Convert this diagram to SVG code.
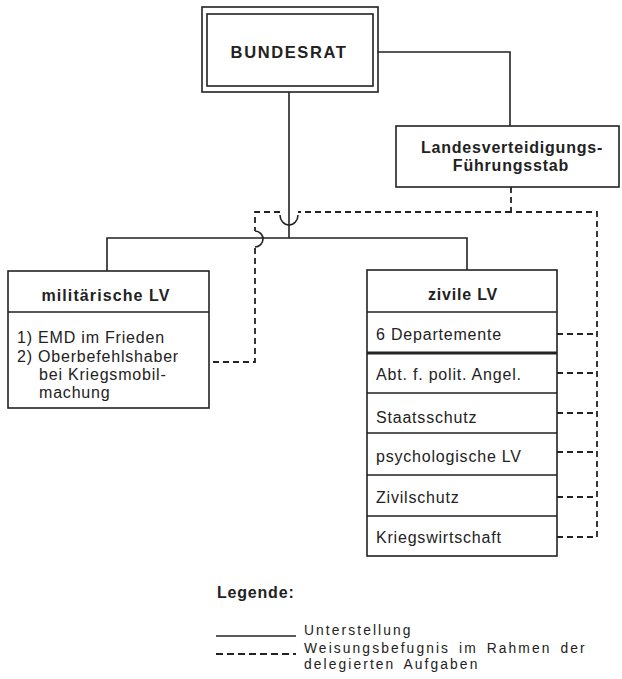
<svg xmlns="http://www.w3.org/2000/svg" width="622" height="679" viewBox="0 0 622 679">
<style>
text{font-family:"Liberation Sans",Arial,sans-serif;font-size:16px;fill:#222;letter-spacing:0.8px}
.b{font-weight:bold}
.lg{font-size:13.8px;letter-spacing:2.1px;word-spacing:3px}
.box{fill:none;stroke:#222;stroke-width:1.6}
.s{fill:none;stroke:#222;stroke-width:1.6}
.d{fill:none;stroke:#222;stroke-width:1.8;stroke-dasharray:6 4}
</style>
<rect width="622" height="679" fill="#fff"/>
<g id="connectors">
<path class="s" d="M378 52H510V126"/>
<path class="s" d="M289 92V238"/>
<path class="s" d="M107 271V238H467V270"/>
<path class="d" d="M511 187V212H597V537"/>
<path class="d" d="M511 212H298"/>
<path class="s" d="M298 215A9 10 0 0 1 280 215"/>
<path class="d" d="M280 212H255V231"/>
<path class="s" d="M255 231A8 8 0 0 1 255 247"/>
<path class="d" d="M255 248V362H210"/>
<path class="d" d="M557 334H597M557 373H597M557 413H597M557 452H597M557 497H597M557 537H597"/>
</g>
<g id="bundesrat">
<rect class="box" x="202" y="7" width="176" height="85"/>
<rect class="box" x="207" y="14" width="166" height="72"/>
<text class="b" x="289" y="58" text-anchor="middle" style="font-size:16.5px;letter-spacing:1.6px">BUNDESRAT</text>
</g>
<g id="fuehrungsstab">
<rect class="box" x="396" y="126" width="223" height="61"/>
<text class="b" x="512" y="153" text-anchor="middle">Landesverteidigungs-</text>
<text class="b" x="511" y="171" text-anchor="middle">Führungsstab</text>
</g>
<g id="militaerische">
<rect class="box" x="8" y="271" width="201" height="137"/>
<path class="s" d="M8 312H209"/>
<text class="b" x="106" y="301" text-anchor="middle" style="letter-spacing:1.1px">militärische LV</text>
<text x="17" y="343">1) EMD im Frieden</text>
<text x="17" y="362">2) Oberbefehlshaber</text>
<text x="39" y="380">bei Kriegsmobil-</text>
<text x="39" y="398">machung</text>
</g>
<g id="zivile">
<rect class="box" x="367" y="270" width="190" height="286"/>
<path class="s" d="M367 312H557M367 393H557M367 433H557M367 475H557M367 516H557"/>
<path class="s" d="M367 353H557" style="stroke-width:3"/>
<text class="b" x="463" y="300" text-anchor="middle">zivile LV</text>
<text x="376" y="340">6 Departemente</text>
<text x="376" y="380">Abt. f. polit. Angel.</text>
<text x="376" y="423">Staatsschutz</text>
<text x="376" y="462">psychologische LV</text>
<text x="376" y="503">Zivilschutz</text>
<text x="376" y="543">Kriegswirtschaft</text>
</g>
<g id="legende">
<text class="b" x="217" y="598">Legende:</text>
<path class="s" d="M216 636H296"/>
<text class="lg" x="304" y="635">Unterstellung</text>
<path class="d" d="M216 654H296" style="stroke-dasharray:7 4"/>
<text class="lg" x="304" y="653">Weisungsbefugnis im Rahmen der</text>
<text class="lg" x="304" y="669">delegierten Aufgaben</text>
</g>
</svg>
